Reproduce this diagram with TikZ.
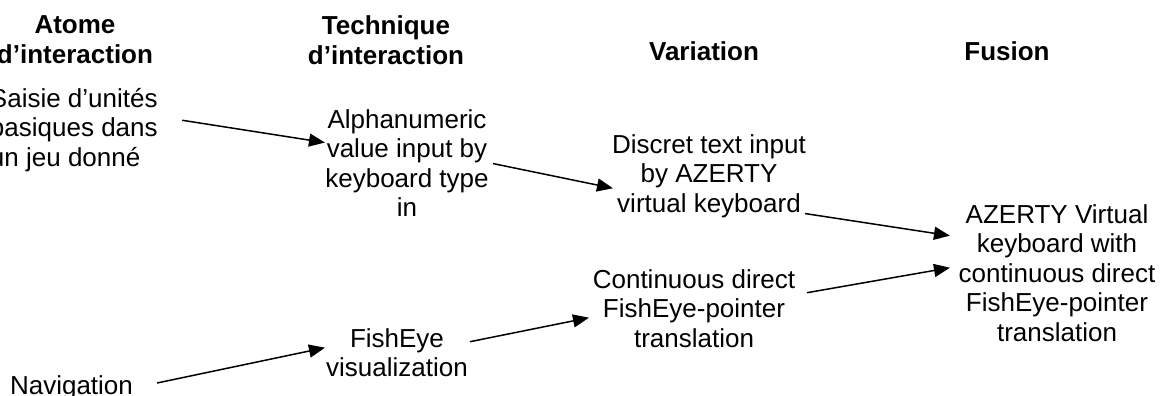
\documentclass[tikz,border=0pt]{standalone}
\usepackage{fontspec}
\setmainfont{Liberation Sans}
\usetikzlibrary{arrows.meta}
\tikzset{
  txt/.style={inner sep=0pt, outer sep=0pt, align=center, anchor=north,
    font=\fontsize{26}{29.5}\selectfont},
  hdr/.style={txt, font=\fontsize{26}{29.5}\selectfont\bfseries},
  arr/.style={line width=1.5pt, -{Triangle[length=16pt,width=13pt]}}
}
\begin{document}
\begin{tikzpicture}[x=1pt,y=-1pt]
\useasboundingbox (0,0) rectangle (1168,396);
% headers
\node[hdr] (h1) at (75,13.35) {\strut Atome\\d’interaction};
\node[hdr] (h2) at (386,14.35) {\strut Technique\\d’interaction};
\node[hdr] (h3) at (704,40.35) {\strut Variation};
\node[hdr] (h4) at (1007,40.35) {\strut Fusion};
% texts
\node[txt, align=left, anchor=north west] (saisie) at (-10,86.35)
  {\strut Saisie d’unités\\basiques dans\\un jeu donné};
\node[txt] (alpha) at (407,107.35)
  {\strut Alphanumeric\\value input by\\keyboard type\\in};
\node[txt] (discret) at (709,132.35)
  {\strut Discret text input\\by AZERTY\\virtual keyboard};
\node[txt] (fusion) at (1057,202.35)
  {\strut AZERTY Virtual\\keyboard with\\continuous direct\\FishEye-pointer\\translation};
\node[txt] (cont) at (694,267.35)
  {\strut Continuous direct\\FishEye-pointer\\translation};
\node[txt] (fish) at (397,326.35)
  {\strut FishEye\\visualization};
\node[txt] (nav) at (71.5,373.35) {\strut Navigation};
% connectors
\draw[arr] ([shift={(24.6,-8.6)}]saisie.east) -- ([shift={(-0.35,-19.35)}]alpha.west);
\draw[arr] ([shift={(4.35,1.65)}]alpha.east) -- ([shift={(0.8,13.4)}]discret.west);
\draw[arr] ([shift={(-0.8,-3.85)}]discret.south east) -- ([shift={(-8.75,-36.1)}]fusion.west);
\draw[arr] ([shift={(24.15,-5.1)}]nav.east) -- ([shift={(-1.2,-3.85)}]fish.west);
\draw[arr] ([shift={(2.2,-9.85)}]fish.east) -- ([shift={(-3.85,10.4)}]cont.west);
\draw[arr] ([shift={(11.85,-14.6)}]cont.east) -- ([shift={(-8.75,-4.1)}]fusion.west);
\end{tikzpicture}
\end{document}
